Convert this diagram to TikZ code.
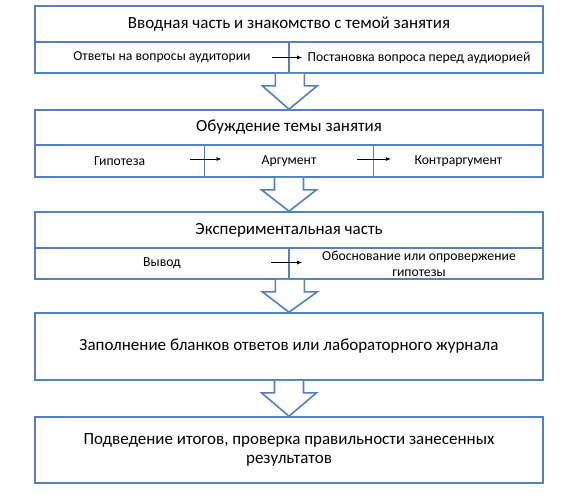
\documentclass[tikz,border=0pt]{standalone}
\usepackage{fontspec}
\setmainfont{Carlito}
\usetikzlibrary{calc,arrows.meta}
\definecolor{frame}{RGB}{84,128,190}
\tikzset{
  cell/.style={draw=frame, line width=1.6pt, fill=white, inner sep=0pt, align=center, text=black},
  title/.style={cell, font=\fontsize{17}{19}\selectfont},
  sub/.style={cell, font=\fontsize{13.7}{16}\selectfont},
  big/.style={cell, font=\fontsize{17}{19}\selectfont},
  sarrow/.style={-{Latex[length=5pt,width=4pt]}, line width=0.8pt, black},
  barrow/.style={draw=frame, line width=1.6pt, fill=white, line join=miter}
}
\newcommand\blockarr[2]{%
  \draw[barrow] ($(#1)+(-14.5,0)$) -- ++(0,12) -- ++(-13,0) -- (#2)
     -- ($(#1)+(27.5,12)$) -- ++(-13,0) -- ++(0,-12);}
\begin{document}
\begin{tikzpicture}[x=1pt,y=-1pt]
\useasboundingbox[fill=white] (0,0) rectangle (586,498);
% box 1
\node[title, minimum width=508, minimum height=36] (b1) at (289,24) {Вводная часть и знакомство с темой занятия};
\node[sub, minimum width=254, minimum height=31] (b1a) at (162,57.5) {Ответы на вопросы аудитории};
\node[sub, minimum width=254, minimum height=31] (b1b) at (416,57.5) {\hspace*{6pt}Постановка вопроса перед аудиорией};
% box 2
\node[title, minimum width=508, minimum height=35] (b2) at (289,127.5) {Обуждение темы занятия};
\node[sub, minimum width=169.33, minimum height=32] (b2a) at (119.67,161) {Гипотеза};
\node[sub, minimum width=169.33, minimum height=32] (b2b) at (289,161) {Аргумент};
\node[sub, minimum width=169.33, minimum height=32] (b2c) at (458.33,161) {Контраргумент};
% box 3
\node[title, minimum width=508, minimum height=36] (b3) at (289,230) {Экспериментальная часть};
\node[sub, minimum width=254, minimum height=31] (b3a) at (162,263.5) {Вывод};
\node[sub, minimum width=254, minimum height=31] (b3b) at (416,263.5) {\hspace*{6pt}Обоснование или опровержение\\\hspace*{6pt}гипотезы};
% box 4
\node[big, minimum width=508, minimum height=67] (b4) at (289,346.5) {Заполнение бланков ответов или лабораторного журнала};
% box 5
\node[big, minimum width=508, minimum height=66] (b5) at (289,450) {Подведение итогов, проверка правильности занесенных\\результатов};
% small arrows
\draw[sarrow] ($(b1a.east)+(-18,0)$) -- ($(b1b.west)+(14,0)$);
\draw[sarrow] ($(b2a.east)+(-15,-2)$) -- ($(b2b.west)+(18,-2)$);
\draw[sarrow] ($(b2b.east)+(-17,-2)$) -- ($(b2c.west)+(18,-2)$);
\draw[sarrow] ($(b3a.east)+(-19,-1)$) -- ($(b3b.west)+(14,-1)$);
% block arrows
\blockarr{b1a.south east}{b2.north}
\blockarr{b2b.south}{b3.north}
\blockarr{b3a.south east}{b4.north}
\blockarr{b4.south}{b5.north}
\end{tikzpicture}
\end{document}
